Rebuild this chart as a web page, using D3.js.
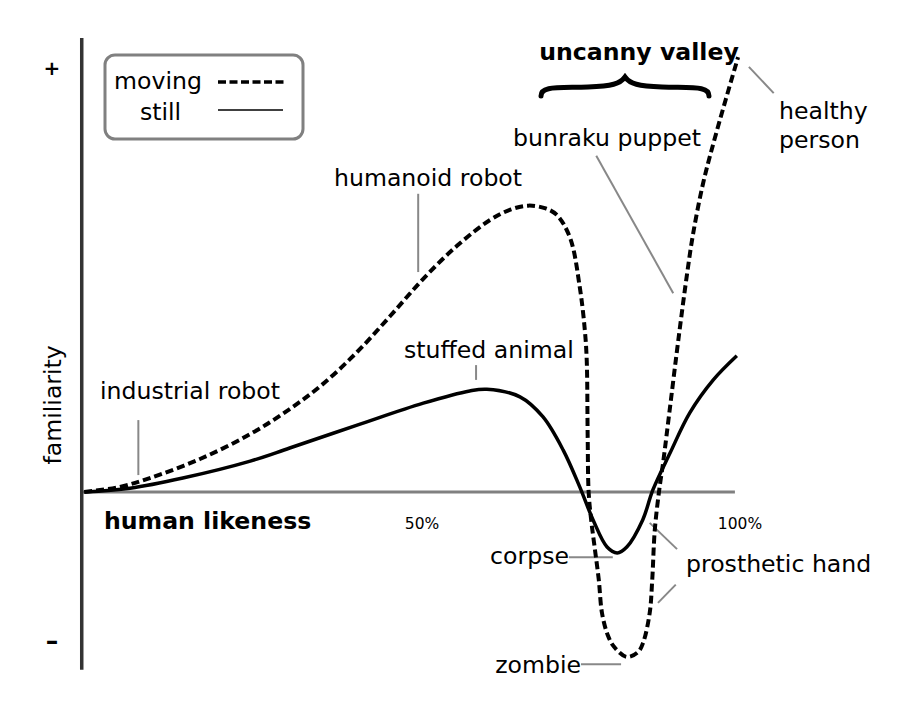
<!DOCTYPE html>
<html>
<head>
<meta charset="utf-8">
<script src="https://cdn.jsdelivr.net/npm/d3@7"></script>
<style>
  html, body { margin: 0; padding: 0; background: #fff; }
  svg { display: block; }
  text { font-family: "DejaVu Sans", sans-serif; fill: #000; }
</style>
</head>
<body>
<svg id="chart" width="900" height="703"></svg>
<script>
// Uncanny valley (Mori). x = human likeness (%), y = familiarity (arbitrary units).

const movingLikeness = [-3.1, 2.5, 7.2, 15.1, 23.0, 29.2, 34.4, 39.8, 45.0, 50.2, 55.5, 60.7, 63.8,
  66.7, 69.3, 71.2, 73.3, 74.8, 75.6, 75.9, 76.05, 76.2, 76.6, 77.2, 77.8, 78.3, 79.2, 80.2, 82.2,
  84.0, 84.8, 85.8, 86.2, 86.6, 87.3, 87.9, 89.0, 90.3, 91.7, 92.6, 94.2, 96.4, 99.7];
const movingFamiliarity = [0, 1.2, 3.3, 7.8, 13.7, 19.6, 25.5, 33.1, 41.6, 50.4, 58.2, 64.3, 66.7,
  67.7, 67.1, 65.5, 60.0, 48.5, 38.3, 31.2, 13.0, 0, -6.6, -13.7, -20.8, -28.6, -33.8, -36.6, -39.0,
  -37.8, -35.5, -28.6, -20.8, -9.0, 0.5, 6.8, 20.1, 35.9, 51.8, 60.8, 73.0, 85.6, 102.8];

const stillLikeness = [-3.1, 4.1, 12.4, 23.0, 29.2, 39.8, 50.2, 57.5, 60.2, 65.4, 69.0, 72.2, 74.8,
  76.9, 79.1, 80.7, 82.2, 84.7, 86.3, 89.0, 92.1, 95.8, 99.5];
const stillFamiliarity = [0, 0.9, 3.3, 7.3, 10.4, 15.8, 21.0, 23.9, 24.3, 22.5, 17.8, 9.9, 1.2,
  -6.6, -13.0, -14.4, -13.0, -6.6, 0.5, 9.2, 18.7, 26.5, 32.2];

const xTicks = [50, 100];
const xTickLabels = ["50%", "100%"];

// Annotations: label, [x, y] where the pointer meets the curve, [x, y] of the pointer's other end.
const notes = [
  { text: "industrial robot", at: [5.4, 4], from: [5.4, 17] },
  { text: "humanoid robot", at: [49.4, 52], from: [49.4, 70.5] },
  { text: "stuffed animal", at: [58.5, 26.5], from: [58.5, 30] },
  { text: "bunraku puppet", at: [89.5, 47], from: [77.4, 79.5] },
  { text: "healthy person", at: [105.3, 94.3], from: [101.4, 100.5] },
  { text: "corpse", at: [80, -15.4], from: [73.1, -15.4] },
  { text: "zombie", at: [81.3, -40.7], from: [75.0, -40.7] },
  { text: "prosthetic hand", at: [85.8, -7.3], from: [90.1, -13.5] },
  { text: "prosthetic hand", at: [87.1, -26.2], from: [89.9, -21.9] }
];

const FONT = 23.6;

const svg = d3.select("#chart");
const x = d3.scaleLinear().domain([0, 100]).range([104, 740]);
const y = d3.scaleLinear().domain([0, 100]).range([492, 69]);

const line = d3.line()
  .x(d => x(d[0]))
  .y(d => y(d[1]))
  .curve(d3.curveCatmullRom.alpha(0.5));

const moving = d3.zip(movingLikeness, movingFamiliarity);
const still = d3.zip(stillLikeness, stillFamiliarity);

// axes
svg.append("line")
  .attr("x1", x(-3.6)).attr("x2", x(99.2))
  .attr("y1", y(0)).attr("y2", y(0))
  .attr("stroke", "#808080").attr("stroke-width", 3);

svg.append("line")
  .attr("x1", x(-3.5)).attr("x2", x(-3.5))
  .attr("y1", y(107.3)).attr("y2", y(-42))
  .attr("stroke", "#333").attr("stroke-width", 3.5);

svg.append("text")
  .attr("x", 52).attr("y", y(100) + 6)
  .attr("text-anchor", "middle")
  .attr("font-size", 20).attr("font-weight", "bold")
  .text("+");
svg.append("text")
  .attr("x", 52).attr("y", y(-35) + 9)
  .attr("text-anchor", "middle")
  .attr("font-size", 25).attr("font-weight", "bold")
  .text("–");

svg.append("text")
  .attr("transform", `translate(61,${y(20.6)}) rotate(-90)`)
  .attr("text-anchor", "middle")
  .attr("font-size", FONT)
  .text("familiarity");

svg.append("text")
  .attr("x", x(0)).attr("y", 529)
  .attr("font-size", FONT).attr("font-weight", "bold")
  .text("human likeness");

svg.selectAll(".xtick")
  .data(xTicks)
  .join("text")
  .attr("class", "xtick")
  .attr("x", d => x(d)).attr("y", 529)
  .attr("text-anchor", "middle")
  .attr("font-size", 15.5)
  .text((d, i) => xTickLabels[i]);

// pointers
svg.selectAll(".pointer")
  .data(notes)
  .join("line")
  .attr("class", "pointer")
  .attr("x1", d => x(d.from[0])).attr("y1", d => y(d.from[1]))
  .attr("x2", d => x(d.at[0])).attr("y2", d => y(d.at[1]))
  .attr("stroke", "#888").attr("stroke-width", 2);

// curves
svg.append("path")
  .datum(still)
  .attr("d", line)
  .attr("fill", "none")
  .attr("stroke", "#000")
  .attr("stroke-width", 3.5);

svg.append("path")
  .datum(moving)
  .attr("d", line)
  .attr("fill", "none")
  .attr("stroke", "#000")
  .attr("stroke-width", 4)
  .attr("stroke-dasharray", "8,4");

// labels
const lab = (txt, px, py, anchor = "start") =>
  svg.append("text")
    .attr("x", px).attr("y", py)
    .attr("text-anchor", anchor)
    .attr("font-size", FONT)
    .text(txt);

lab("industrial robot", 100, 399);
lab("humanoid robot", 334, 186);
lab("stuffed animal", 404, 358);
lab("bunraku puppet", 513, 146);
lab("healthy", 779, 119);
lab("person", 779, 148);
lab("corpse", 569, 564, "end");
lab("zombie", 581, 673, "end");
lab("prosthetic hand", 686, 572);

svg.append("text")
  .attr("x", 639).attr("y", 60)
  .attr("text-anchor", "middle")
  .attr("font-size", FONT).attr("font-weight", "bold")
  .text("uncanny valley");

// brace over the valley
svg.append("path")
  .attr("d", "M541,96 C541,86 556,88 588,87 C612,86 620,84 625,77 C630,84 638,86 662,87 C694,88 709,86 709,96")
  .attr("fill", "none")
  .attr("stroke", "#000")
  .attr("stroke-width", 5)
  .attr("stroke-linecap", "round");

// legend
const legend = svg.append("g");
legend.append("rect")
  .attr("x", 105).attr("y", 55)
  .attr("width", 198).attr("height", 84)
  .attr("rx", 10)
  .attr("fill", "#fff")
  .attr("stroke", "#808080").attr("stroke-width", 3);
legend.append("text").attr("x", 158).attr("y", 89).attr("text-anchor", "middle")
  .attr("font-size", FONT).text("moving");
legend.append("text").attr("x", 160.5).attr("y", 120).attr("text-anchor", "middle")
  .attr("font-size", FONT).text("still");
legend.append("line")
  .attr("x1", 218).attr("x2", 286).attr("y1", 82).attr("y2", 82)
  .attr("stroke", "#000").attr("stroke-width", 3.5)
  .attr("stroke-dasharray", "8,3.5");
legend.append("line")
  .attr("x1", 218).attr("x2", 283).attr("y1", 110).attr("y2", 110)
  .attr("stroke", "#000").attr("stroke-width", 1.6);
</script>
</body>
</html>
